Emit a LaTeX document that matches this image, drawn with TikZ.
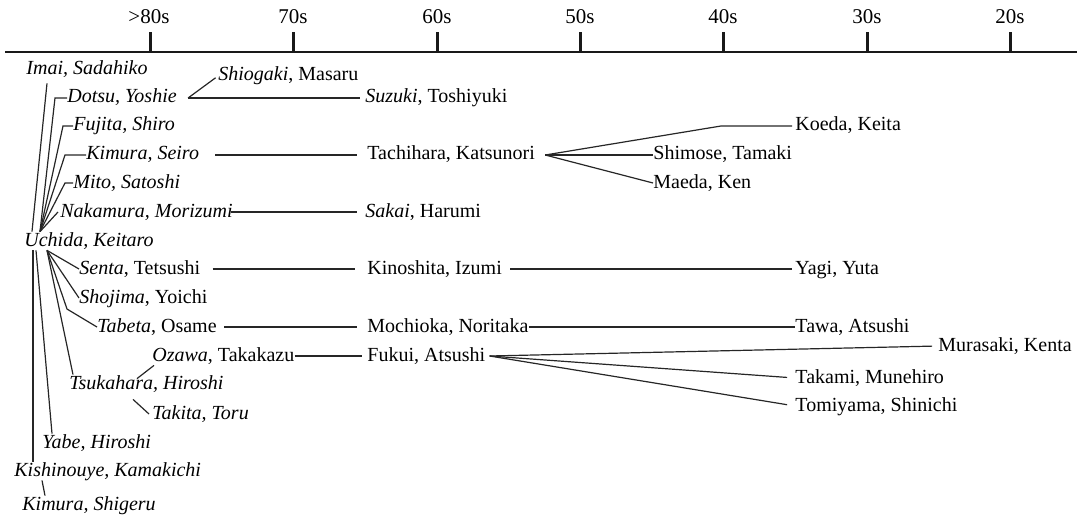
\documentclass[tikz,border=0pt]{standalone}
\usepackage{fontspec}
\setmainfont{Liberation Serif}

\begin{document}
\begin{tikzpicture}[x=0.5pt,y=-0.5pt,
  every node/.style={anchor=west,inner sep=0pt,text height=7pt,text depth=2pt,font=\fontsize{10}{12}\selectfont},
  decade/.style={anchor=center,font=\fontsize{10.5}{12}\selectfont},
  link/.style={line width=0.6pt,draw=black!85},
  axis/.style={line width=1.3pt,draw=black!90},
  tick/.style={line width=1.5pt,draw=black!90}]
\useasboundingbox (0,0) rectangle (1081,519);
\draw[axis] (5,52) -- (1077,52);
\node[decade] (d80) at (149,19)  { >80s };
\node[decade] (d70) at (293,19)  { 70s };
\node[decade] (d60) at (437,19)  { 60s };
\node[decade] (d50) at (580,19)  { 50s };
\node[decade] (d40) at (723,19)  { 40s };
\node[decade] (d30) at (867,19)  { 30s };
\node[decade] (d20) at (1010,19) { 20s };
\draw[tick] (150,52)  -- (150,32);
\draw[tick] (293,52)  -- (293,32);
\draw[tick] (437,52)  -- (437,32);
\draw[tick] (580,52)  -- (580,32);
\draw[tick] (723,52)  -- (723,32);
\draw[tick] (867,52)  -- (867,32);
\draw[tick] (1010,52) -- (1010,32);
\node (imai)       at (26,70)   { \textit{Imai, Sadahiko} };
\node (shiogaki)   at (218,76)  { \textit{Shiogaki}, Masaru };
\node (dotsu)      at (67,98)   { \textit{Dotsu, Yoshie} };
\node (suzuki)     at (365,98)  { \textit{Suzuki}, Toshiyuki };
\node (fujita)     at (73,126)  { \textit{Fujita, Shiro} };
\node (koeda)      at (795,126) { Koeda, Keita };
\node (kseiro)     at (86,155)  { \textit{Kimura, Seiro} };
\node (tachihara)  at (367,155) { Tachihara, Katsunori };
\node (shimose)    at (653,155) { Shimose, Tamaki };
\node (mito)       at (73,183)  { \textit{Mito, Satoshi} };
\node (maeda)      at (653,183) { Maeda, Ken };
\node (nakamura)   at (60,212)  { \textit{Nakamura, Morizumi} };
\node (sakai)      at (365,212) { \textit{Sakai}, Harumi };
\node (uchida)     at (24,241)  { \textit{Uchida, Keitaro} };
\node (senta)      at (79,269)  { \textit{Senta}, Tetsushi };
\node (kinoshita)  at (367,269) { Kinoshita, Izumi };
\node (yagi)       at (795,269) { Yagi, Yuta };
\node (shojima)    at (79,298)  { \textit{Shojima}, Yoichi };
\node (tabeta)     at (97,327)  { \textit{Tabeta}, Osame };
\node (mochioka)   at (367,327) { Mochioka, Noritaka };
\node (tawa)       at (795,327) { Tawa, Atsushi };
\node (ozawa)      at (152,356) { \textit{Ozawa}, Takakazu };
\node (fukui)      at (367,356) { Fukui, Atsushi };
\node (murasaki)   at (938,346) { Murasaki, Kenta };
\node (tsukahara)  at (69,384)  { \textit{Tsukahara, Hiroshi} };
\node (takami)     at (795,378) { Takami, Munehiro };
\node (takita)     at (152,414) { \textit{Takita, Toru} };
\node (tomiyama)   at (795,406) { Tomiyama, Shinichi };
\node (yabe)       at (42,443)  { \textit{Yabe, Hiroshi} };
\node (kishinouye) at (14,471)  { \textit{Kishinouye, Kamakichi} };
\node (kshigeru)   at (22,505)  { \textit{Kimura, Shigeru} };
\coordinate (uchtop)    at ([xshift=8pt]uchida.north west);
\coordinate (uchbot)    at ([xshift=11.5pt]uchida.south west);
\coordinate (tabetac)   at (67,309);
\coordinate (dotsufork) at ([xshift=5.5pt]dotsu.east);
\coordinate (tachfork)  at ([xshift=5pt]tachihara.east);
\coordinate (koedac)    at ([xshift=-37pt]koeda.west);
\coordinate (fukuifork) at ([xshift=2pt]fukui.east);
\draw[link] ([xshift=10.5pt,yshift=-2pt]imai.south west) -- ([xshift=4pt]uchida.north west);
\draw[link] (uchtop) -- ([xshift=-6pt]dotsu.west) -- (dotsu.west);
\draw[link] (uchtop) -- ([xshift=-5pt]fujita.west) -- (fujita.west);
\draw[link] (uchtop) -- ([xshift=-10.5pt]kseiro.west) -- (kseiro.west);
\draw[link] (uchtop) -- ([xshift=-4pt]mito.west) -- (mito.west);
\draw[link] (uchtop) -- ([xshift=-1pt]nakamura.west);
\draw[link] (uchbot) -- (senta.west);
\draw[link] (uchbot) -- (shojima.west);
\draw[link] (uchbot) -- (tabetac) -- (tabeta.west);
\draw[link] (uchbot) -- ([xshift=2pt]tsukahara.north west);
\draw[link] ([xshift=6pt]uchida.south west) -- ([xshift=5pt]yabe.north west);
\draw[link] ([xshift=4.5pt]uchida.south west) -- ([xshift=9.5pt]kishinouye.north west);
\draw[link] ([xshift=14pt]kishinouye.south west) -- ([xshift=11.5pt]kshigeru.north west);
\draw[link,shorten >=1.5pt] (dotsufork) -- (shiogaki.west);
\draw[link,shorten >=2.5pt] (dotsufork) -- (suzuki.west);
\draw[link,shorten <=8pt,shorten >=5pt] (kseiro) -- (tachihara);
\draw[link,shorten >=1.5pt] (tachfork) -- (koedac) -- (koeda.west);
\draw[link] (tachfork) -- (shimose.west);
\draw[link] (tachfork) -- (maeda.west);
\draw[link,shorten <=-1pt,shorten >=4pt] (nakamura) -- (sakai);
\draw[link,shorten <=6pt,shorten >=6pt] (senta) -- (kinoshita);
\draw[link,shorten <=4pt,shorten >=1.5pt] (kinoshita) -- (yagi);
\draw[link,shorten <=3.5pt,shorten >=5pt] (tabeta) -- (mochioka);
\draw[link] (mochioka) -- (tawa);
\draw[link,shorten >=2.5pt] (ozawa) -- (fukui);
\draw[link,shorten >=3pt] (fukuifork) -- (murasaki.west);
\draw[link,shorten >=4pt] (fukuifork) -- (takami.west);
\draw[link,shorten >=4pt] (fukuifork) -- (tomiyama.west);
\draw[link] ([xshift=34pt,yshift=-2pt]tsukahara.north west) -- ([xshift=1pt]ozawa.south west);
\draw[link] ([xshift=32pt,yshift=-3pt]tsukahara.south west) -- ([xshift=-1.5pt]takita.west);
\end{tikzpicture}
\end{document}
